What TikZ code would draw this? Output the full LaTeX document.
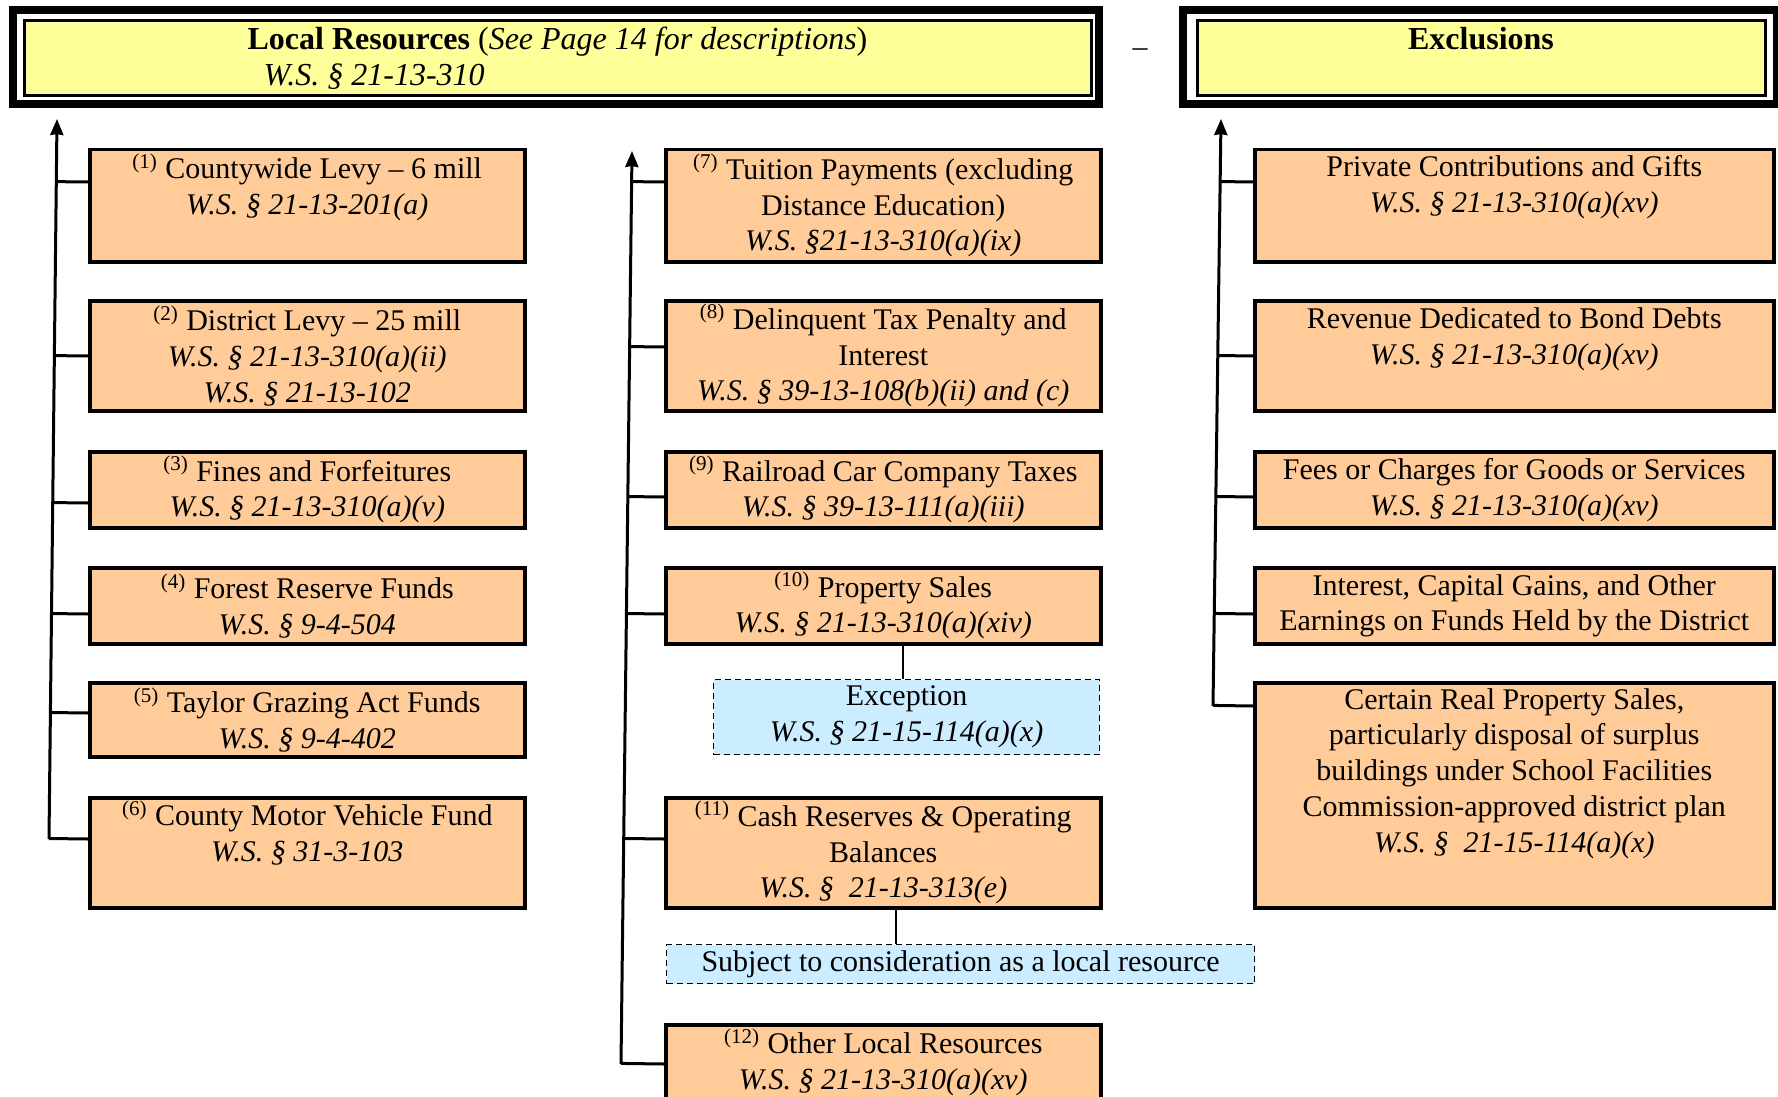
\documentclass[tikz,border=0pt]{standalone}
\usepackage{fontspec}
\setmainfont{Liberation Serif}
\usepackage{xcolor}
\usepackage{tikz}
\usetikzlibrary{calc, arrows.meta}

\definecolor{hdryellow}{HTML}{FFFF99}
\definecolor{srcorange}{HTML}{FFCC99}
\definecolor{noteblue}{HTML}{CCECFF}

\tikzset{
	every node/.style = {font = \fontsize{15}{17.9}\selectfont},
	hdrbox/.style = {draw, line width = 1.5pt, fill = hdryellow, anchor = north west, inner sep = 0pt, font = \fontsize{16}{17.9}\selectfont},
	srcbox/.style = {draw, line width = 1.75pt, fill = srcorange, anchor = north west, align = center, inner sep = 0pt},
	notebox/.style = {draw, densely dashed, line width = 0.6pt, fill = noteblue, anchor = north west, align = center, inner sep = 0pt},
	trunk/.style = {line width = 1.5pt, -{Stealth[length = 8pt, width = 6.5pt, inset = 0.5pt]}},
	branch/.style = {line width = 1.5pt},
	link/.style = {line width = 0.75pt}
}

\begin{document}
\begin{tikzpicture}[x = 0.5pt, y = -0.5pt]
		%page size
		\useasboundingbox (0,0) rectangle (1778,1097);
		\fill [white] (0,0) rectangle (1778,1097);
		
		%widths of the columns
		\def\colw{217.5pt}
		\def\wide{259.5pt}
		
		%headers
		\draw [line width = 4pt] (13,10) rectangle (1099,104);
		\draw [line width = 4pt] (1183,10) rectangle (1777,104);
		\node [hdrbox, align = left, minimum width = 533.5pt, minimum height = 37.5pt] (lochead) at (22.5,19.5) {\textbf{Local Resources} (\textit{See Page 14 for descriptions})\\ \hspace*{8pt}\textit{W.S. § 21-13-310}};
		\node [hdrbox, align = center, minimum width = 284pt, minimum height = 37.5pt] (exhead) at (1195.5,19.5) {\textbf{Exclusions}\\[2pt] ~};
		\node (minus) at (1140,53) {–};
		
		%local resources (1) to (6)
		\node [srcbox, minimum width = \colw, minimum height = 56pt] (l1) at (88,148) {\textsuperscript{(1)} Countywide Levy – 6 mill\\ \textit{W.S. § 21-13-201(a)}\\[4pt] ~};
		\node [srcbox, minimum width = \colw, minimum height = 55pt] (l2) at (88,299) {\textsuperscript{(2)} District Levy – 25 mill\\ \textit{W.S. § 21-13-310(a)(ii)}\\ \textit{W.S. § 21-13-102}};
		\node [srcbox, minimum width = \colw, minimum height = 38pt] (l3) at (88,450) {\textsuperscript{(3)} Fines and Forfeitures\\ \textit{W.S. § 21-13-310(a)(v)}};
		\node [srcbox, minimum width = \colw, minimum height = 38pt] (l4) at (88,566) {\textsuperscript{(4)} Forest Reserve Funds\\ \textit{W.S. § 9-4-504}};
		\node [srcbox, minimum width = \colw, minimum height = 37pt] (l5) at (88,681) {\textsuperscript{(5)} Taylor Grazing Act Funds\\ \textit{W.S. § 9-4-402}};
		\node [srcbox, minimum width = \colw, minimum height = 55pt] (l6) at (88,796) {\textsuperscript{(6)} County Motor Vehicle Fund\\ \textit{W.S. § 31-3-103}\\[4pt] ~};
		
		%local resources (7) to (12)
		\node [srcbox, minimum width = \colw, minimum height = 56pt] (m7) at (664,148) {\textsuperscript{(7)} Tuition Payments (excluding\\ Distance Education)\\ \textit{W.S. §21-13-310(a)(ix)}};
		\node [srcbox, minimum width = \colw, minimum height = 55pt] (m8) at (664,299) {\textsuperscript{(8)} Delinquent Tax Penalty and\\ Interest\\ \textit{W.S. § 39-13-108(b)(ii) and (c)}};
		\node [srcbox, minimum width = \colw, minimum height = 38pt] (m9) at (664,450) {\textsuperscript{(9)} Railroad Car Company Taxes\\ \textit{W.S. § 39-13-111(a)(iii)}};
		\node [srcbox, minimum width = \colw, minimum height = 38pt] (m10) at (664,566) {\textsuperscript{(10)} Property Sales\\ \textit{W.S. § 21-13-310(a)(xiv)}};
		\node [notebox, minimum width = 193pt, minimum height = 37.5pt] (exc) at (713,679) {Exception\\ \textit{W.S. § 21-15-114(a)(x)}};
		\node [srcbox, minimum width = \colw, minimum height = 55pt] (m11) at (664,796) {\textsuperscript{(11)} Cash Reserves \& Operating\\ Balances\\ \textit{W.S. §~ 21-13-313(e)}};
		\node [notebox, minimum width = 294pt, minimum height = 19.5pt] (subj) at (666,944) {Subject to consideration as a local resource};
		\node [srcbox, minimum width = \colw, minimum height = 37.5pt] (m12) at (664,1023) {\textsuperscript{(12)} Other Local Resources\\ \textit{W.S. § 21-13-310(a)(xv)}};
		
		%exclusions
		\node [srcbox, minimum width = \wide, minimum height = 56pt] (r1) at (1253,148) {Private Contributions and Gifts\\ \textit{W.S. § 21-13-310(a)(xv)}\\[4pt] ~};
		\node [srcbox, minimum width = \wide, minimum height = 55pt] (r2) at (1253,299) {Revenue Dedicated to Bond Debts\\ \textit{W.S. § 21-13-310(a)(xv)}\\[2pt] ~};
		\node [srcbox, minimum width = \wide, minimum height = 38pt] (r3) at (1253,450) {Fees or Charges for Goods or Services\\ \textit{W.S. § 21-13-310(a)(xv)}};
		\node [srcbox, minimum width = \wide, minimum height = 38pt] (r4) at (1253,566) {Interest, Capital Gains, and Other\\ Earnings on Funds Held by the District};
		\node [srcbox, minimum width = \wide, minimum height = 112.5pt] (r5) at (1253,681) {Certain Real Property Sales,\\ particularly disposal of surplus\\ buildings under School Facilities\\ Commission-approved district plan\\ \textit{W.S. §~ 21-15-114(a)(x)}\\[7pt] ~};
		
		%trunk lines
		\coordinate (ltop) at (57,119);
		\coordinate (lbot) at (49,839);
		\coordinate (mtop) at (632,151);
		\coordinate (mbot) at (621,1064);
		\coordinate (rtop) at (1221,119);
		\coordinate (rbot) at (1213,706);
		
		\draw [trunk] (lbot) -- (ltop);
		\draw [trunk] (mbot) -- (mtop);
		\draw [trunk] (rbot) -- (rtop);
		
		%branches to the boxes
		\foreach \b/\dy in {l1/34, l2/57, l3/53, l4/48, l5/32, l6/43} {
			\coordinate (p) at ($(\b.north west)+(0,\dy)$);
			\draw [branch] ($(ltop)!(p)!(lbot)$) -- (p);
		}
		\foreach \b/\dy in {m7/34, m8/48, m9/47, m10/48, m11/43, m12/41} {
			\coordinate (p) at ($(\b.north west)+(0,\dy)$);
			\draw [branch] ($(mtop)!(p)!(mbot)$) -- (p);
		}
		\foreach \b/\dy in {r1/34, r2/57, r3/47, r4/48, r5/25} {
			\coordinate (p) at ($(\b.north west)+(0,\dy)$);
			\draw [branch] ($(rtop)!(p)!(rbot)$) -- (p);
		}
		
		%exception and note
		\coordinate (e1) at (903,0);
		\coordinate (s1) at (896,0);
		\draw [link] (m10.south -| e1) -- (exc.north -| e1);
		\draw [link] (m11.south -| s1) -- (subj.north -| s1);
	\end{tikzpicture}
\end{document}
